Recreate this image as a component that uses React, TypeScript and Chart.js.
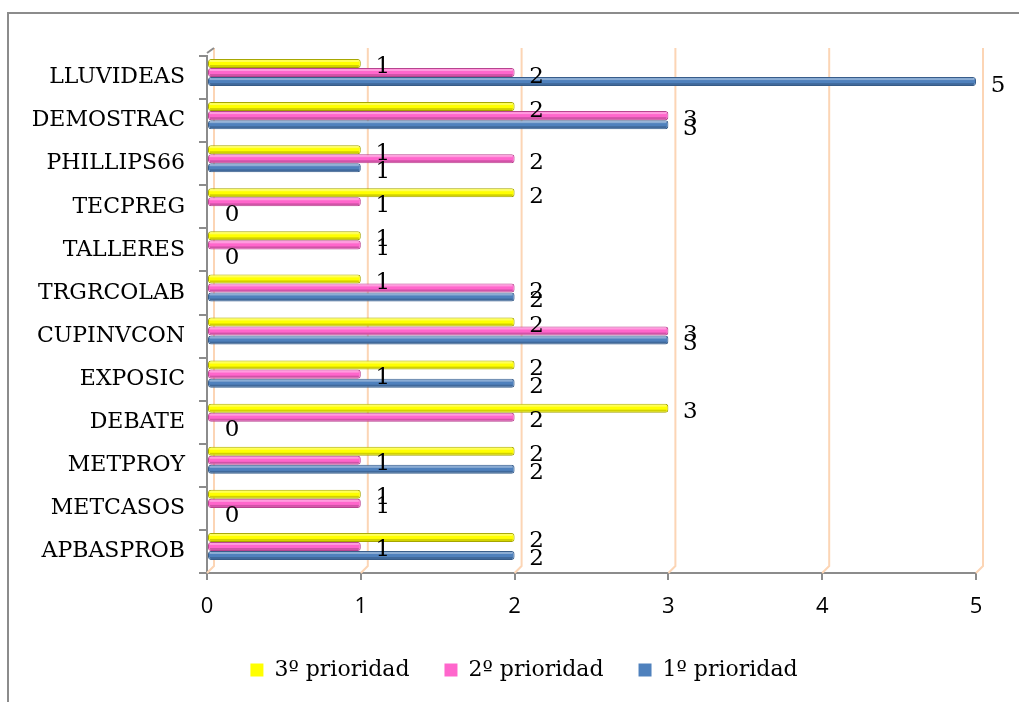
import React, { useEffect, useRef } from 'react';
import { Chart, registerables } from 'chart.js';
Chart.register(...registerables);

const categories = ['LLUVIDEAS', 'DEMOSTRAC', 'PHILLIPS66', 'TECPREG', 'TALLERES', 'TRGRCOLAB', 'CUPINVCON', 'EXPOSIC', 'DEBATE', 'METPROY', 'METCASOS', 'APBASPROB'];
const seriesNames = ['3º prioridad', '2º prioridad', '1º prioridad'];
const tercera = [1, 2, 1, 2, 1, 1, 2, 2, 3, 2, 1, 2];
const segunda = [2, 3, 2, 1, 1, 2, 3, 1, 2, 1, 1, 1];
const primera = [5, 3, 1, 0, 0, 2, 3, 2, 0, 2, 0, 2];
const xTicks = [0, 1, 2, 3, 4, 5];

const fills = ['#FFFF00', '#FF66CC', '#4F81BD'];
const edges = ['#A6A600', '#B8448F', '#385D8A'];
const DEPTH = 5;

const offsetGrid = {
  id: 'offsetGrid',
  beforeDatasetsDraw(chart: any) {
    const { ctx, chartArea, scales } = chart;
    const x = scales.x;
    ctx.save();
    ctx.strokeStyle = '#FCD5B5';
    ctx.lineWidth = 2;
    xTicks.forEach((v) => {
      const px = x.getPixelForValue(v);
      ctx.beginPath();
      ctx.moveTo(px + 7, chartArea.top - 8);
      ctx.lineTo(px + 7, chartArea.bottom - 7);
      ctx.lineTo(px, chartArea.bottom);
      ctx.stroke();
    });
    ctx.strokeStyle = '#8C8C8C';
    const x0 = x.getPixelForValue(0);
    ctx.beginPath();
    ctx.moveTo(x0, chartArea.top - 3);
    ctx.lineTo(x0 + 7, chartArea.top - 8);
    ctx.stroke();
    ctx.restore();
  },
};

const depthShift = {
  id: 'depthShift',
  beforeDatasetDraw(chart: any) {
    chart.ctx.save();
    chart.ctx.translate(0, -DEPTH);
  },
  afterDatasetDraw(chart: any, args: any) {
    const { ctx } = chart;
    const meta = args.meta;
    const ds = chart.data.datasets[args.index];
    meta.data.forEach((el: any, i: number) => {
      if (!ds.data[i]) return;
      const left = Math.min(el.base, el.x);
      const w = Math.abs(el.x - el.base);
      const h = el.height;
      ctx.fillStyle = 'rgba(255,255,255,0.35)';
      ctx.fillRect(left + 2, el.y - h / 2 + 1, w - 4, 2);
      ctx.fillStyle = 'rgba(0,0,0,0.18)';
      ctx.fillRect(left + 2, el.y + h / 2 - 3, w - 4, 2);
    });
    ctx.restore();
  },
};

const valueLabels = {
  id: 'valueLabels',
  afterDatasetsDraw(chart: any) {
    const { ctx } = chart;
    ctx.save();
    ctx.font = '23px "DejaVu Serif"';
    ctx.fillStyle = '#000';
    ctx.textAlign = 'center';
    ctx.textBaseline = 'middle';
    chart.data.datasets.forEach((ds: any, di: number) => {
      const meta = chart.getDatasetMeta(di);
      meta.data.forEach((el: any, i: number) => {
        const v = ds.data[i];
        ctx.fillText(String(v), el.x + (v === 0 ? 25 : 22), el.y - DEPTH + 4);
      });
    });
    ctx.restore();
  },
};

const legendShift = {
  id: 'legendShift',
  afterLayout(chart: any) {
    const lg = chart.legend;
    if (lg) {
      lg.left += 36;
      lg.right += 36;
    }
  },
};

export default function App() {
  const ref = useRef<HTMLCanvasElement>(null);
  useEffect(() => {
    document.body.style.margin = '0';
    const series = [tercera, segunda, primera];
    const chart = new Chart(ref.current as HTMLCanvasElement, {
      type: 'bar',
      data: {
        labels: categories,
        datasets: series.map((d, i) => ({
          label: seriesNames[i],
          data: d,
          backgroundColor: fills[i],
          borderColor: edges[i],
          borderWidth: 1,
          borderRadius: 3,
          borderSkipped: false,
          barPercentage: 1,
          categoryPercentage: 0.63,
        })),
      },
      options: {
        indexAxis: 'y',
        animation: false,
        responsive: false,
        devicePixelRatio: 1,
        layout: { padding: { left: 0, right: 43, top: 56, bottom: 11 } },
        plugins: {
          tooltip: { enabled: false },
          legend: {
            position: 'bottom',
            labels: {
              boxWidth: 13,
              boxHeight: 13,
              padding: 35,
              color: '#000',
              font: { family: '"DejaVu Serif"', size: 22 },
              generateLabels: (c: any) =>
                c.data.datasets.map((ds: any, i: number) => ({
                  text: ds.label,
                  fillStyle: fills[i],
                  strokeStyle: fills[i],
                  lineWidth: 0,
                  datasetIndex: i,
                  fontColor: '#000',
                })),
            },
          },
        },
        scales: {
          x: {
            min: 0,
            max: 5,
            afterFit: (s: any) => { s.height = 51; },
            afterBuildTicks: (s: any) => { s.ticks = xTicks.map((v) => ({ value: v })); },
            grid: { drawOnChartArea: false, drawTicks: true, tickLength: 7, color: '#8C8C8C', lineWidth: 2 },
            border: { color: '#8C8C8C', width: 2 },
            ticks: { color: '#000', padding: 14, font: { family: '"Open Sans"', size: 22 } },
          },
          y: {
            afterFit: (s: any) => { s.width = 207; },
            grid: { drawOnChartArea: false, drawTicks: true, tickLength: 8, color: '#8C8C8C', lineWidth: 2, offset: true },
            border: { color: '#8C8C8C', width: 2 },
            ticks: { color: '#000', padding: 14, font: { family: '"DejaVu Serif"', size: 22 } },
          },
        },
      },
      plugins: [offsetGrid, depthShift, valueLabels, legendShift],
    } as any);
    return () => chart.destroy();
  }, []);
  return (
    <div style={{ position: 'relative', width: 1019, height: 702, background: '#fff', overflow: 'hidden' }}>
      <div style={{ position: 'absolute', left: 7, top: 12, width: 1100, height: 800, borderTop: '2px solid #8C8C8C', borderLeft: '2px solid #8C8C8C' }} />
      <canvas ref={ref} width={1019} height={702} style={{ position: 'absolute', left: 0, top: 0 }} />
    </div>
  );
}
